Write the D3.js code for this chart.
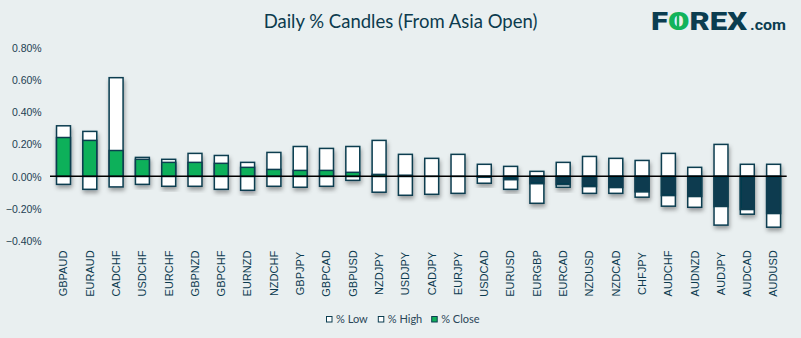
<!DOCTYPE html>
<html>
<head>
<meta charset="utf-8">
<script src="https://cdn.jsdelivr.net/npm/d3@7"></script>
<style>
  html, body { margin: 0; padding: 0; background: #e9eff0; }
  svg { display: block; }
</style>
</head>
<body>
<svg id="chart" width="801" height="338"></svg>
<script>
const categories = ["GBPAUD","EURAUD","CADCHF","USDCHF","EURCHF","GBPNZD","GBPCHF","EURNZD","NZDCHF","GBPJPY","GBPCAD","GBPUSD","NZDJPY","USDJPY","CADJPY","EURJPY","USDCAD","EURUSD","EURGBP","EURCAD","NZDUSD","NZDCAD","CHFJPY","AUDCHF","AUDNZD","AUDJPY","AUDCAD","AUDUSD"];
const highValues = [0.315,0.280,0.615,0.118,0.106,0.143,0.130,0.087,0.149,0.186,0.174,0.186,0.224,0.137,0.112,0.137,0.075,0.062,0.031,0.087,0.124,0.112,0.099,0.143,0.056,0.199,0.075,0.075];
const lowValues  = [-0.050,-0.081,-0.066,-0.050,-0.062,-0.062,-0.081,-0.087,-0.062,-0.068,-0.062,-0.025,-0.099,-0.118,-0.112,-0.106,-0.043,-0.081,-0.168,-0.068,-0.106,-0.106,-0.130,-0.186,-0.193,-0.304,-0.236,-0.317];
const closeValues= [0.242,0.224,0.161,0.106,0.087,0.087,0.081,0.056,0.043,0.037,0.037,0.025,0.012,0.007,0.000,0.000,-0.006,-0.021,-0.046,-0.052,-0.064,-0.070,-0.097,-0.120,-0.126,-0.188,-0.207,-0.232];
const yTicks = [-0.4,-0.2,0,0.2,0.4,0.6,0.8];
const legendItems = [{label:"% Low", fill:"#ffffff"},{label:"% High", fill:"#ffffff"},{label:"% Close", fill:"#10b05a"}];
const titleText = "Daily % Candles (From Asia Open)";

const svg = d3.select("#chart");
const W = 801, H = 338;
const dark = "#0b3d50";
const green = "#10b05a";
const navy = "#073b4f";

svg.append("rect").attr("width", W).attr("height", H).attr("fill", "#e9eff0");

const defs = svg.append("defs");
const f = defs.append("filter").attr("id","shadow").attr("x","-50%").attr("y","-20%").attr("width","200%").attr("height","140%");
f.append("feDropShadow").attr("dx",1).attr("dy",3).attr("stdDeviation",2).attr("flood-color","#000").attr("flood-opacity",0.35);

const x = d3.scaleBand().domain(categories).range([50.35, 786.75]).paddingInner(0.47).paddingOuter(0.235);
const y = d3.scaleLinear().domain([-0.4, 0.8]).range([240.5, 48]);

// title
svg.append("text").attr("x", 400.5).attr("y", 27.5).attr("text-anchor","middle")
  .attr("font-family","Lato, 'Open Sans', sans-serif").attr("font-size", 18.5).attr("fill", "#0c3b4e")
  .text(titleText);

// logo
const logo = svg.append("g");
const ft = logo.append("text").attr("x", 651).attr("y", 30).attr("font-family","Roboto, 'Liberation Sans', Arial, sans-serif")
  .attr("font-weight", 900).attr("font-size", 26.5).attr("fill", dark)
  .attr("textLength", 96).attr("lengthAdjust", "spacingAndGlyphs");
ft.append("tspan").text("F");
ft.append("tspan").attr("fill", "#12b35a").text("O");
ft.append("tspan").text("REX");
logo.append("line").attr("x1", 678).attr("x2", 678).attr("y1", 13).attr("y2", 28)
  .attr("stroke", "#12b35a").attr("stroke-width", 2.5);
logo.append("text").attr("x", 750).attr("y", 30).attr("font-family","Roboto, 'Liberation Sans', Arial, sans-serif")
  .attr("font-weight","bold").attr("font-size", 15).attr("fill", dark)
  .attr("textLength", 36).attr("lengthAdjust", "spacingAndGlyphs").text(".com");

// y axis labels
const yAxis = d3.axisLeft(y).tickValues(yTicks).tickSize(0).tickPadding(0)
  .tickFormat(d => d3.format(".2f")(d) + "%");
const ya = svg.append("g").attr("transform","translate(41.7,0)").call(yAxis);
ya.select(".domain").remove();
ya.selectAll("text").attr("font-family","'Liberation Sans', Arial, sans-serif").attr("font-size", 10.5)
  .attr("fill","#1d3e52").attr("dy","0.35em");

// candles
const data = categories.map((c,i) => ({c, hi: highValues[i], lo: lowValues[i], cl: closeValues[i]}));
const g = svg.append("g");
const cand = g.selectAll("g.c").data(data).join("g").attr("class","c").attr("filter","url(#shadow)");
cand.append("rect").attr("x", d => x(d.c)).attr("width", x.bandwidth())
  .attr("y", d => y(0)).attr("height", d => y(d.lo) - y(0))
  .attr("fill","#fff").attr("stroke", dark).attr("stroke-width", 1.5);
cand.append("rect").attr("x", d => x(d.c)).attr("width", x.bandwidth())
  .attr("y", d => y(d.hi)).attr("height", d => y(0) - y(d.hi))
  .attr("fill","#fff").attr("stroke", dark).attr("stroke-width", 1.5);
cand.filter(d => d.cl !== 0).append("rect").attr("x", d => x(d.c)).attr("width", x.bandwidth())
  .attr("y", d => y(Math.max(0, d.cl))).attr("height", d => Math.abs(y(d.cl) - y(0)))
  .attr("fill", d => d.cl >= 0 ? green : navy).attr("stroke", dark).attr("stroke-width", 1.5);

// zero line
svg.append("line").attr("x1", 50).attr("x2", 786.7).attr("y1", y(0)).attr("y2", y(0))
  .attr("stroke", "#000").attr("stroke-width", 1.5);

// x labels
const xAxis = d3.axisBottom(x).tickSize(0).tickPadding(0);
const xa = svg.append("g").attr("transform","translate(0,273.5)").call(xAxis);
xa.select(".domain").remove();
xa.selectAll("text").attr("transform","rotate(-90)").attr("x",0).attr("y",0).attr("dy","0.35em")
  .attr("text-anchor","middle")
  .attr("font-family","'Liberation Sans', Arial, sans-serif").attr("font-size", 11).attr("fill","#0b3a4f");

// legend
const legendX = [326.5, 378.3, 431.7];
const lg = svg.selectAll("g.lg").data(legendItems).join("g").attr("class","lg")
  .attr("transform", (d,i) => `translate(${legendX[i]},316.5)`);
lg.append("rect").attr("width",5.5).attr("height",5.5).attr("fill", d => d.fill).attr("stroke", dark).attr("stroke-width",1);
lg.append("text").attr("x", 9.5).attr("y", 6.5).attr("font-family","Lato, 'Open Sans', sans-serif")
  .attr("font-size", 11).attr("fill","#2a4658").text(d => d.label);
</script>
</body>
</html>
